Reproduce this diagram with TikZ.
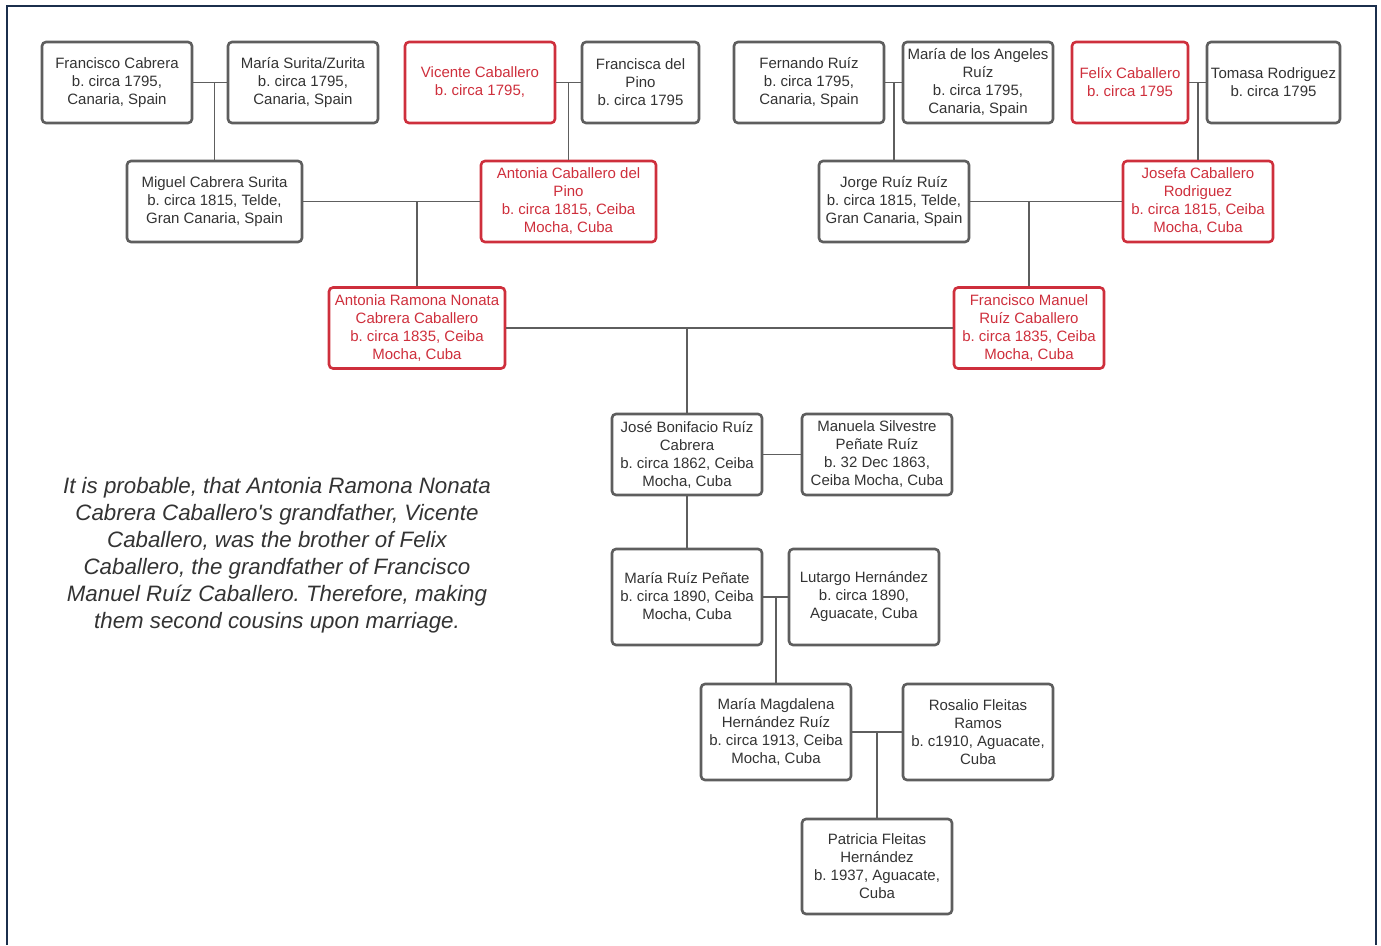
\documentclass[tikz,border=0pt]{standalone}
\usepackage{fontspec}
\setmainfont{Liberation Sans}
\usepackage{xcolor}
\definecolor{cg}{HTML}{5E5E5E}
\definecolor{ct}{HTML}{333333}
\definecolor{cr}{HTML}{CE2F3C}
\definecolor{cn}{HTML}{1B2F4C}
\usepackage{tikz}
\usetikzlibrary{positioning,calc}
\frenchspacing

\begin{document}
\begin{tikzpicture}[
  x=1pt, y=-1pt,
  person/.style={rectangle, rounded corners=4pt, draw=cg, line width=2.6pt, text=ct,
    align=center, inner sep=0pt, minimum width=150pt, minimum height=81pt,
    font=\fontsize{15}{18}\selectfont},
  kin/.style={person, draw=cr, text=cr},
  tie/.style={draw=cg, line width=1.8pt},
]
  \useasboundingbox (0,0) rectangle (1381,945);
  \draw[cn, line width=2pt] (7,945) -- (7,6) -- (1376,6) -- (1376,945);

  % great-grandparents
  \node[person] (fc) at (117,82.5) {Francisco Cabrera\\b. circa 1795,\\Canaria, Spain};
  \node[person] (ms) at (303,82.5) {María Surita/Zurita\\b. circa 1795,\\Canaria, Spain};
  \node[kin] (vc) at (480,82.5) {Vicente Caballero\\b. circa 1795,};
  \node[person, minimum width=117pt] (fp) at (640.5,82.5) {Francisca del\\Pino\\b. circa 1795};
  \node[person] (fr) at (809,82.5) {Fernando Ruíz\\b. circa 1795,\\Canaria, Spain};
  \node[person] (ma) at (978,82.5) {María de los Angeles\\Ruíz\\b. circa 1795,\\Canaria, Spain};
  \node[kin, minimum width=116pt] (fx) at (1130,82.5) {Felíx Caballero\\b. circa 1795};
  \node[person, minimum width=133pt] (tr) at (1273.5,82.5) {Tomasa Rodriguez\\b. circa 1795};

  % grandparents
  \node[person, minimum width=175pt] (mc) at (214.5,201.5) {Miguel Cabrera Surita\\b. circa 1815, Telde,\\Gran Canaria, Spain};
  \node[kin, minimum width=175pt] (ac) at (568.5,201.5) {Antonia Caballero del\\Pino\\b. circa 1815, Ceiba\\Mocha, Cuba};
  \node[person] (jr) at (894,201.5) {Jorge Ruíz Ruíz\\b. circa 1815, Telde,\\Gran Canaria, Spain};
  \node[kin] (jc) at (1198,201.5) {Josefa Caballero\\Rodriguez\\b. circa 1815, Ceiba\\Mocha, Cuba};

  % parents
  \node[kin, minimum width=176pt] (ar) at (417,328) {Antonia Ramona Nonata\\Cabrera Caballero\\b. circa 1835, Ceiba\\Mocha, Cuba};
  \node[kin] (fm) at (1029,328) {Francisco Manuel\\Ruíz Caballero\\b. circa 1835, Ceiba\\Mocha, Cuba};

  % descendants
  \node[person] (jb) at (687,454.5) {José Bonifacio Ruíz\\Cabrera\\b. circa 1862, Ceiba\\Mocha, Cuba};
  \node[person] (sp) at (877,454.5) {Manuela Silvestre\\Peñate Ruíz\\b. 32 Dec 1863,\\Ceiba Mocha, Cuba};
  \node[person, minimum height=96pt] (mr) at (687,597) {María Ruíz Peñate\\b. circa 1890, Ceiba\\Mocha, Cuba};
  \node[person, minimum height=96pt] (lh) at (864,597) {Lutargo Hernández\\b. circa 1890,\\Aguacate, Cuba};
  \node[person, minimum height=96pt] (mm) at (776,732) {María Magdalena\\Hernández Ruíz\\b. circa 1913, Ceiba\\Mocha, Cuba};
  \node[person, minimum height=96pt] (rf) at (978,732) {Rosalio Fleitas\\Ramos\\b. c1910, Aguacate,\\Cuba};
  \node[person, minimum height=95pt] (pf) at (877,866.5) {Patricia Fleitas\\Hernández\\b. 1937, Aguacate,\\Cuba};

  \node[text=ct, align=center, font=\itshape\fontsize{22.3}{27}\selectfont\addfontfeatures{Ligatures=TeXOff}] (note) at (277,555)
    {It is probable, that Antonia Ramona Nonata\\Cabrera Caballero's grandfather, Vicente\\Caballero, was the brother of Felix\\Caballero, the grandfather of Francisco\\Manuel Ruíz Caballero. Therefore, making\\them second cousins upon marriage.};

  % couples and children
  \draw[tie] (fc) -- (ms);
  \draw[tie] (mc.north) -- (mc.north |- fc.east);
  \draw[tie] (vc) -- (fp);
  \draw[tie] (ac.north) -- (ac.north |- vc.east);
  \draw[tie] (fr) -- (ma);
  \draw[tie] (jr.north) -- (jr.north |- fr.east);
  \draw[tie] (fx) -- (tr);
  \draw[tie] (jc.north) -- (jc.north |- fx.east);
  \draw[tie] (mc) -- (ac);
  \draw[tie] (ar.north) -- (ar.north |- mc.east);
  \draw[tie] (jr) -- (jc);
  \draw[tie] (fm.north) -- (fm.north |- jr.east);
  \draw[tie] (ar) -- (fm);
  \draw[tie] (jb.north) -- (jb.north |- ar.east);
  \draw[tie] (jb) -- (sp);
  \draw[tie] (jb) -- (mr);
  \draw[tie] (mr) -- (lh);
  \draw[tie] (mm.north) -- (mm.north |- mr.east);
  \draw[tie] (mm) -- (rf);
  \draw[tie] (pf.north) -- (pf.north |- mm.east);
\end{tikzpicture}
\end{document}
